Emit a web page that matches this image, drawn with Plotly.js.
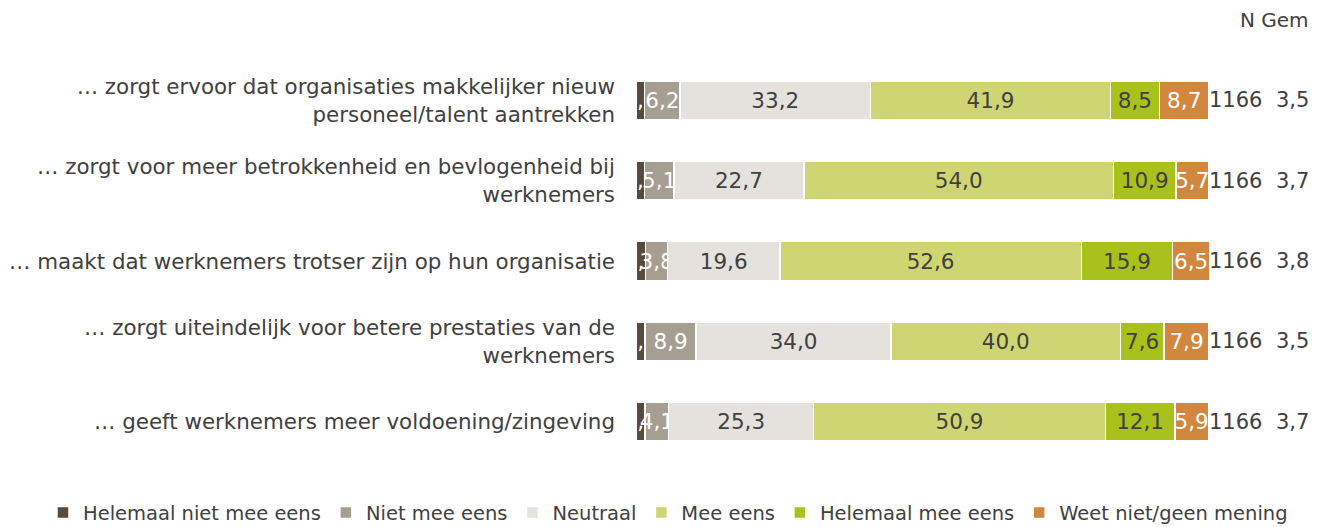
<!DOCTYPE html>
<html>
<head>
<meta charset="utf-8">
<script src="https://cdn.plot.ly/plotly-3.0.1.min.js"></script>
<style>html,body{margin:0;padding:0;background:#fff;}#chart{width:1328px;height:527px;}</style>
</head>
<body>
<div id="chart"></div>
<script>
const categories = [
  "… zorgt ervoor dat organisaties makkelijker nieuw<br>personeel/talent aantrekken",
  "… zorgt voor meer betrokkenheid en bevlogenheid bij<br>werknemers",
  "… maakt dat werknemers trotser zijn op hun organisatie",
  "… zorgt uiteindelijk voor betere prestaties van de<br>werknemers",
  "… geeft werknemers meer voldoening/zingeving"
];
const seriesNames = ["Helemaal niet mee eens", "Niet mee eens", "Neutraal", "Mee eens", "Helemaal mee eens", "Weet niet/geen mening"];
const helemaalNiet = [1.5, 1.5, 1.7, 1.6, 1.6];
const nietMeeEens = [6.2, 5.1, 3.8, 8.9, 4.1];
const neutraal = [33.2, 22.7, 19.6, 34.0, 25.3];
const meeEens = [41.9, 54.0, 52.6, 40.0, 50.9];
const helemaalMee = [8.5, 10.9, 15.9, 7.6, 12.1];
const weetNiet = [8.7, 5.7, 6.5, 7.9, 5.9];
const nValues = ["1166", "1166", "1166", "1166", "1166"];
const gemValues = ["3,5", "3,7", "3,8", "3,5", "3,7"];

const colors = ["#584a3c", "#a79e92", "#e5e2de", "#d0d573", "#a9c11c", "#d2873e"];
const textColors = ["#ffffff", "#ffffff", "#404040", "#404040", "#404040", "#ffffff"];
const allSeries = [helemaalNiet, nietMeeEens, neutraal, meeEens, helemaalMee, weetNiet];
const FONT = "DejaVu Sans, Verdana, sans-serif";
const W = 1328;

const traces = allSeries.map((vals, i) => ({
  type: "bar",
  orientation: "h",
  name: seriesNames[i],
  y: categories,
  x: vals,
  text: vals.map(v => v.toFixed(1).replace(".", ",")),
  textposition: "inside",
  insidetextanchor: "middle",
  textangle: 0,
  constraintext: "none",
  cliponaxis: false,
  textfont: {family: FONT, size: 21.5, color: textColors[i]},
  marker: {color: colors[i], line: {color: "#ffffff", width: 1.5}},
  hoverinfo: "skip"
}));

const annotations = [];
categories.forEach((c, i) => {
  annotations.push({xref: "paper", yref: "y", x: 1209 / W, y: c, text: nValues[i], showarrow: false, xanchor: "left", xshift: -2, font: {family: FONT, size: 21, color: "#404040"}});
  annotations.push({xref: "paper", yref: "y", x: 1311 / W, y: c, text: gemValues[i], showarrow: false, xanchor: "right", font: {family: FONT, size: 21, color: "#404040"}});
});
annotations.push({xref: "paper", yref: "paper", x: 1311 / W, y: 1.1, text: "N Gem", showarrow: false, xanchor: "right", yanchor: "middle", font: {family: FONT, size: 20, color: "#404040"}});

const layout = {
  width: W, height: 527,
  margin: {l: 0, r: 0, t: 60, b: 65},
  barmode: "stack",
  bargap: 0.52,
  paper_bgcolor: "#ffffff",
  plot_bgcolor: "#ffffff",
  showlegend: true,
  legend: {orientation: "h", xref: "paper", yref: "container", x: 0.503, y: 0.027, xanchor: "center", yanchor: "middle",
           font: {family: FONT, size: 19.5, color: "#404040"}, itemwidth: 30, traceorder: "normal", itemclick: false},
  xaxis: {domain: [636 / W, 1210 / W], range: [0, 100.15], showgrid: false, zeroline: false, showticklabels: false, showline: false, fixedrange: true, automargin: false},
  yaxis: {autorange: "reversed", showgrid: false, zeroline: false, showline: false, ticks: "", ticklabelstandoff: 20, automargin: false,
          tickfont: {family: FONT, size: 21.4, color: "#404040"}, fixedrange: true},
  annotations: annotations,
  font: {family: FONT, color: "#404040"}
};

Plotly.newPlot("chart", traces, layout, {displayModeBar: false, staticPlot: true});
</script>
</body>
</html>
